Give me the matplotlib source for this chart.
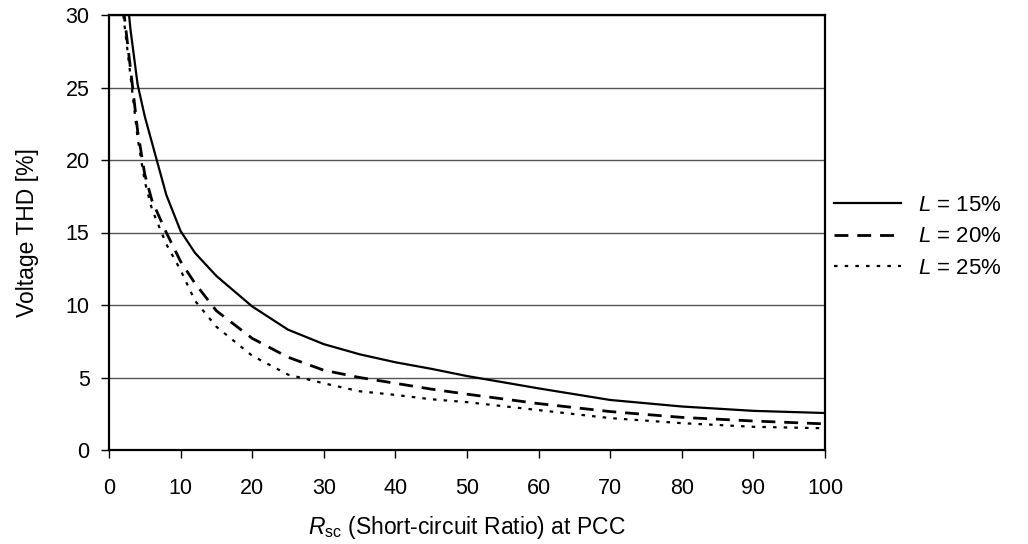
import matplotlib
matplotlib.use('Agg')
import matplotlib.pyplot as plt

# fonts (Arial-like)
plt.rcParams['font.family'] = ['Liberation Sans', 'DejaVu Sans']
plt.rcParams['mathtext.fontset'] = 'custom'
plt.rcParams['mathtext.rm'] = 'Liberation Sans'
plt.rcParams['mathtext.it'] = 'Liberation Sans:italic'

# data
rsc = [2, 3, 4, 5, 6, 8, 10, 12, 15, 20, 25, 30, 35, 40, 45, 50, 60, 70, 80, 90, 100]
thd_l15 = [34, 29, 25.2, 23, 21.2, 17.6, 15.1, 13.6, 12.0, 9.9, 8.3, 7.3, 6.6, 6.05, 5.6, 5.1, 4.25, 3.45, 3.0, 2.7, 2.55]
thd_l20 = [30.5, 26.3, 22, 19, 17.2, 15.0, 13.0, 11.5, 9.6, 7.7, 6.4, 5.5, 5.0, 4.6, 4.2, 3.85, 3.2, 2.65, 2.25, 2.0, 1.8]
thd_l25 = [30, 25.8, 21.5, 18.5, 16.6, 14.2, 12.4, 10.3, 8.5, 6.5, 5.2, 4.6, 4.05, 3.8, 3.5, 3.3, 2.75, 2.2, 1.85, 1.6, 1.5]
labels = ['$\\mathit{L}$ = 15%', '$\\mathit{L}$ = 20%', '$\\mathit{L}$ = 25%']

fig = plt.figure(figsize=(10.28, 5.44), dpi=100)
ax = fig.add_axes([109 / 1028, 1 - 450 / 544, (825 - 109) / 1028, (450 - 15) / 544])

ax.plot(rsc, thd_l15, color='black', lw=1.6, ls='-', label=labels[0])
ax.plot(rsc, thd_l20, color='black', lw=2.0, ls=(0, (5, 3.2)), label=labels[1])
ax.plot(rsc, thd_l25, color='black', lw=1.6, ls=(0, (1.6, 3.2)), label=labels[2])

ax.set_xlim(0, 100)
ax.set_ylim(0, 30)
ax.set_xticks(range(0, 101, 10))
ax.set_yticks(range(0, 31, 5))
ax.yaxis.grid(True, color='#555555', lw=1.0)
ax.set_axisbelow(True)
for s in ax.spines.values():
    s.set_linewidth(1.6)
ax.tick_params(direction='out', length=6, width=1, labelsize=15.5)
ax.tick_params(axis='x', pad=14)
ax.tick_params(axis='y', pad=8)

ax.set_xlabel('$\\mathit{R}_{\\mathrm{sc}}$ (Short-circuit Ratio) at PCC', fontsize=16.5, labelpad=11)
ax.set_ylabel('Voltage THD [%]', fontsize=16.5, labelpad=19)

ax.legend(loc='center left', bbox_to_anchor=(1.0, 0.49), frameon=False, fontsize=16,
          handlelength=3.0, handletextpad=0.8, labelspacing=0.47, borderaxespad=0)

fig.savefig('out.png', dpi=100)
